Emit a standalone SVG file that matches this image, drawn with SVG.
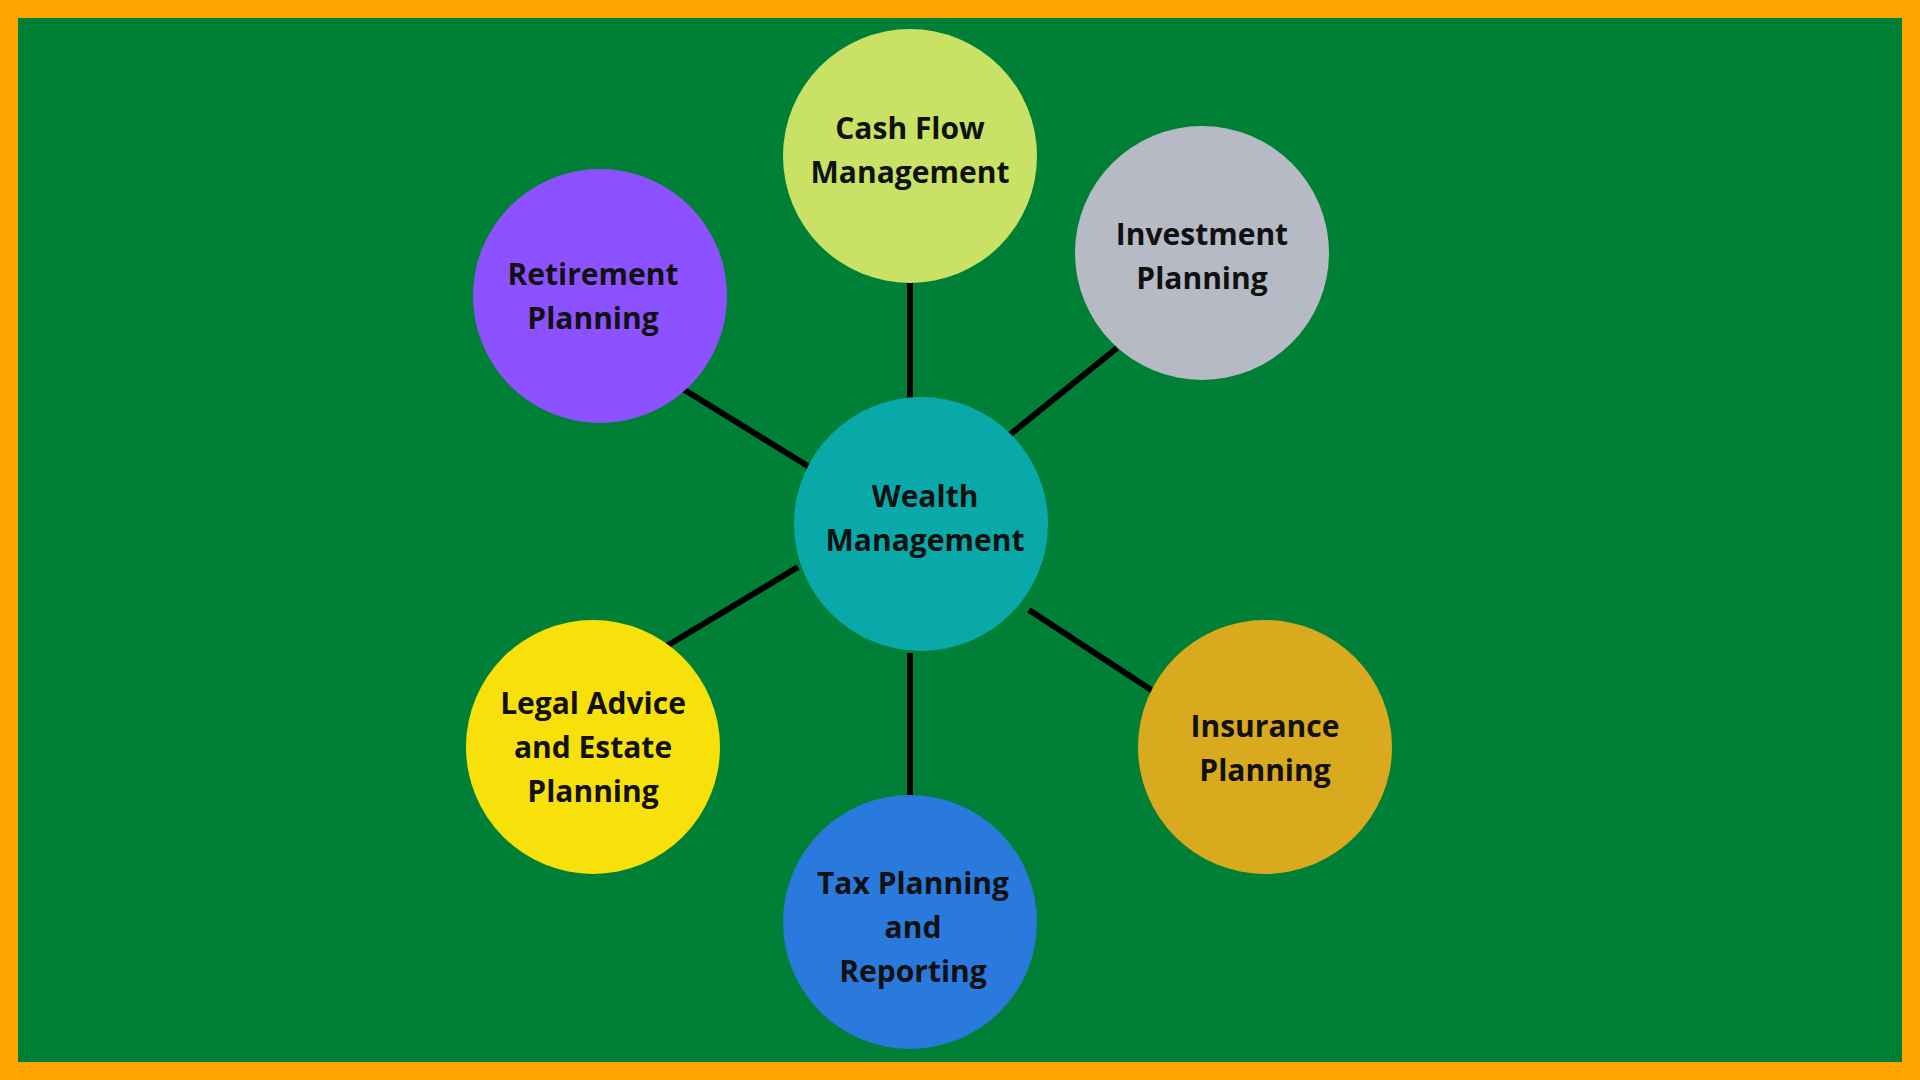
<svg xmlns="http://www.w3.org/2000/svg" width="1920" height="1080" viewBox="0 0 1920 1080">
<style>
.t{font-family:"Open Sans","Liberation Sans",sans-serif;font-weight:bold;font-size:30px;fill:#111;text-anchor:middle;dominant-baseline:central}
.c{stroke:#000;stroke-width:6;fill:none}
</style>
<rect x="0" y="0" width="1920" height="1080" fill="#FFA500"/>
<rect x="18" y="18" width="1884" height="1044" fill="#008037"/>
<g id="connectors" class="c">
<line x1="910" y1="282" x2="910" y2="398"/>
<line x1="1117" y1="348" x2="1007" y2="437"/>
<line x1="683" y1="389" x2="811" y2="468"/>
<line x1="665" y1="647" x2="798" y2="567"/>
<line x1="910" y1="653" x2="910" y2="796"/>
<line x1="1029" y1="610" x2="1156" y2="693"/>
</g>
<g id="wealth"><circle cx="921" cy="524" r="127" fill="#0AA9A9"/><text class="t" x="925" y="495">Wealth</text><text class="t" x="925" y="539">Management</text></g>
<g id="cashflow"><circle cx="910" cy="156" r="127" fill="#C9E265"/><text class="t" x="910" y="127">Cash Flow</text><text class="t" x="910" y="171">Management</text></g>
<g id="investment"><circle cx="1202" cy="253" r="127" fill="#B6BAC4"/><text class="t" x="1202" y="233">Investment</text><text class="t" x="1202" y="277">Planning</text></g>
<g id="retirement"><circle cx="600" cy="296" r="127" fill="#8C52FF"/><text class="t" x="593" y="273">Retirement</text><text class="t" x="593" y="317">Planning</text></g>
<g id="legal"><circle cx="593" cy="747" r="127" fill="#F8E10A"/><text class="t" x="593" y="702">Legal Advice</text><text class="t" x="593" y="746">and Estate</text><text class="t" x="593" y="790">Planning</text></g>
<g id="tax"><circle cx="910" cy="922" r="127" fill="#2A79DC"/><text class="t" x="913" y="882">Tax Planning</text><text class="t" x="913" y="926">and</text><text class="t" x="913" y="970">Reporting</text></g>
<g id="insurance"><circle cx="1265" cy="747" r="127" fill="#DAAA1E"/><text class="t" x="1265" y="725">Insurance</text><text class="t" x="1265" y="769">Planning</text></g>
</svg>
